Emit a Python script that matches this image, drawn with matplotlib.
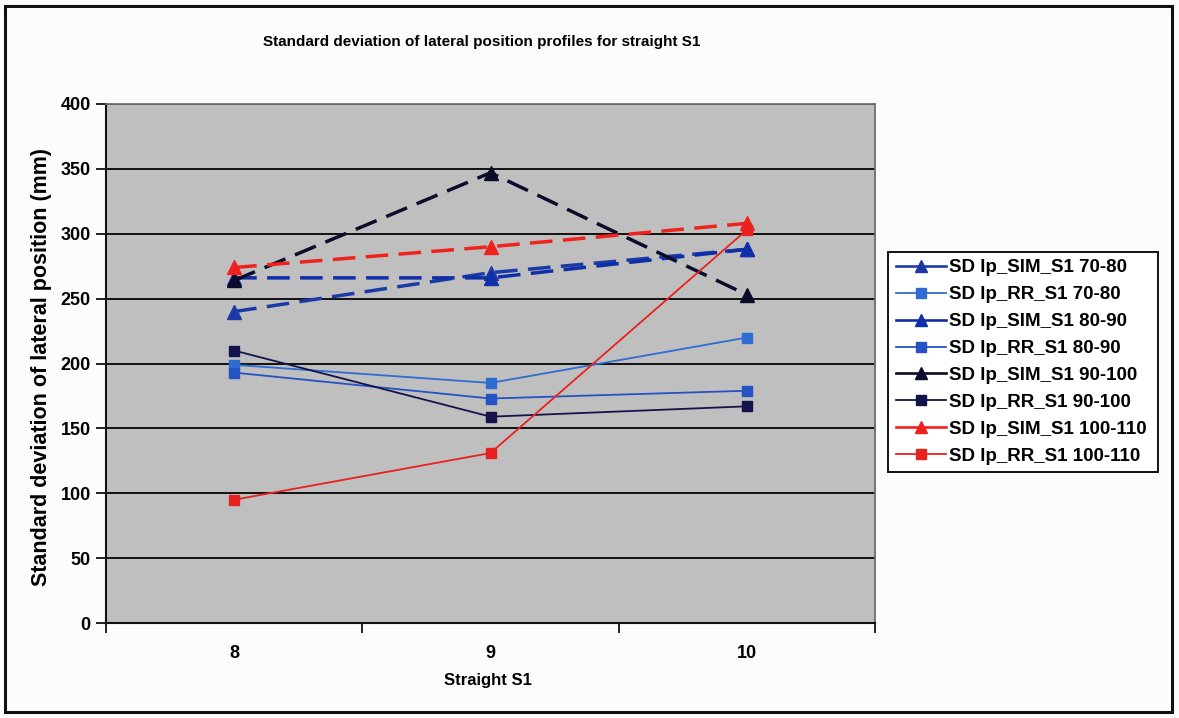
import matplotlib
matplotlib.use("Agg")
import matplotlib.pyplot as plt
from matplotlib.lines import Line2D
from matplotlib.patches import Rectangle

plt.rcParams['font.family'] = ['Liberation Sans', 'DejaVu Sans']

# Categories (straight section numbers)
categories = [8, 9, 10]

# Standard deviation of lateral position (mm)
sim_70_80 = [240, 270, 288]
rr_70_80 = [199, 185, 220]
sim_80_90 = [266, 266, 288]
rr_80_90 = [193, 173, 179]
sim_90_100 = [264, 347, 253]
rr_90_100 = [210, 159, 167]
sim_100_110 = [274, 290, 308]
rr_100_110 = [95, 131, 303]

labels = [
    "SD lp_SIM_S1 70-80",
    "SD lp_RR_S1 70-80",
    "SD lp_SIM_S1 80-90",
    "SD lp_RR_S1 80-90",
    "SD lp_SIM_S1 90-100",
    "SD lp_RR_S1 90-100",
    "SD lp_SIM_S1 100-110",
    "SD lp_RR_S1 100-110",
]
series = [sim_70_80, rr_70_80, sim_80_90, rr_80_90,
          sim_90_100, rr_90_100, sim_100_110, rr_100_110]
colors = ["#1c3aa6", "#2e6cd2", "#0f2ea8", "#2552c4",
          "#0b0b2a", "#14144a", "#f0221e", "#e8221e"]

fig = plt.figure(figsize=(11.79, 7.18), dpi=100)
fig.patch.set_facecolor("#fcfcfa")
ax = fig.add_axes([106 / 1179, 1 - 623 / 718, 769 / 1179, 519 / 718])
ax.set_facecolor("#bfbfbf")

handles = []
for i, (vals, lab, col) in enumerate(zip(series, labels, colors)):
    is_sim = (i % 2 == 0)
    if is_sim:
        ax.plot(categories, vals, color=col, linewidth=2.5, linestyle=(0, (6.5, 3)),
                marker="^", markersize=10, zorder=3)
        handles.append(Line2D([], [], color=col, linewidth=1.9, marker="^",
                              markersize=9, label=lab))
    else:
        ax.plot(categories, vals, color=col, linewidth=1.3, linestyle="-",
                marker="s", markersize=7, zorder=3)
        handles.append(Line2D([], [], color=col, linewidth=1.3, marker="s",
                              markersize=6.5, label=lab))

# Axes limits and gridlines
ax.set_xlim(7.5, 10.5)
ax.set_ylim(0, 400)
ax.set_yticks(range(0, 401, 50))
ax.yaxis.grid(True, color="#111111", linewidth=1.4)
ax.set_axisbelow(True)

# Category boundaries carry the tick marks, labels sit at the centres
ax.set_xticks([7.5, 8.5, 9.5, 10.5])
ax.set_xticklabels([])
ax.set_xticks(categories, minor=True)
ax.set_xticklabels([str(c) for c in categories], minor=True)
ax.tick_params(axis="x", which="major", direction="out", length=7, width=1.3, color="#111111")
ax.tick_params(axis="x", which="minor", length=0, pad=16, labelsize=13)
ax.tick_params(axis="y", direction="out", length=7, width=1.3, color="#111111",
               labelsize=13, pad=4)
for t in ax.get_xticklabels(minor=True) + ax.get_yticklabels():
    t.set_fontweight("bold")

for side in ("left", "bottom"):
    ax.spines[side].set_color("#111111")
    ax.spines[side].set_linewidth(1.5)
for side in ("top", "right"):
    ax.spines[side].set_color("#6e6e6e")
    ax.spines[side].set_linewidth(1.3)

fig.text(482 / 1179, 1 - 42 / 718, "Standard deviation of lateral position profiles for straight S1",
         ha="center", va="center", fontsize=11, fontweight="bold")
fig.text(42 / 1179, 1 - 367 / 718, "Standard deviation of lateral position (mm)",
         ha="center", va="center", rotation=90, fontsize=15.5, fontweight="bold")
fig.text(488 / 1179, 1 - 681 / 718, "Straight S1",
         ha="center", va="center", fontsize=12, fontweight="bold")

leg = fig.legend(handles=handles, loc="center left",
                 bbox_to_anchor=(888 / 1179, 1 - 470 / 718, 270 / 1179, 216 / 718),
                 mode="expand", fontsize=13.5, frameon=True, fancybox=False,
                 edgecolor="#111111", facecolor="white", framealpha=1,
                 handlelength=2.7, handletextpad=0.15, labelspacing=0.52,
                 borderpad=0.4, borderaxespad=0)
leg.get_frame().set_linewidth(1.4)
for t in leg.get_texts():
    t.set_fontweight("bold")

# Outer chart frame
fig.patches.append(Rectangle((5 / 1179, 6 / 718), 1167 / 1179, 706 / 718,
                             transform=fig.transFigure, fill=False,
                             edgecolor="#111111", linewidth=2.2))

fig.savefig("out.png", dpi=100, facecolor=fig.get_facecolor())
